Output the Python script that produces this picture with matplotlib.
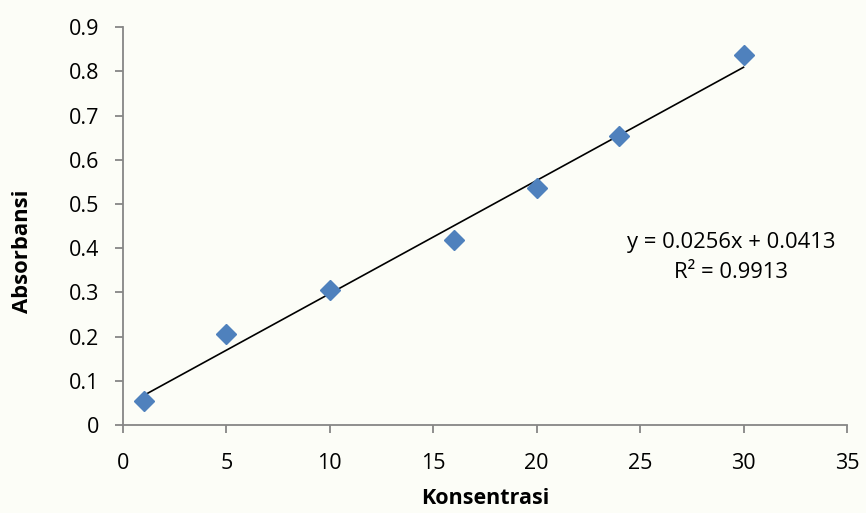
import numpy as np
import matplotlib
matplotlib.use("Agg")
import matplotlib.pyplot as plt

# Calibration data
konsentrasi = [1, 5, 10, 16, 20, 24, 30]
absorbansi = [0.054, 0.206, 0.305, 0.418, 0.536, 0.654, 0.837]

# Linear regression reported on the chart
slope = 0.0256
intercept = 0.0413
r_squared = 0.9913

x_ticks = [0, 5, 10, 15, 20, 25, 30, 35]
y_ticks = [0, 0.1, 0.2, 0.3, 0.4, 0.5, 0.6, 0.7, 0.8, 0.9]

plt.rcParams['font.family'] = ['Open Sans', 'DejaVu Sans']

bg = '#FCFDF7'
fig = plt.figure(figsize=(8.66, 5.13), dpi=100, facecolor=bg)
ax = fig.add_axes([0.142, 0.1715, 0.836, 0.7755], facecolor=bg)

ax.plot(konsentrasi, absorbansi, linestyle='none', marker='D',
        markersize=10, color='#4F81BD', zorder=3)

xf = np.array([min(konsentrasi), max(konsentrasi)])
ax.plot(xf, slope * xf + intercept, color='black', linewidth=1.2, zorder=2)

ax.set_xlim(0, 35)
ax.set_ylim(0, 0.9)
ax.set_xticks(x_ticks)
ax.set_yticks(y_ticks)
ax.set_xticklabels([str(v) for v in x_ticks])
ax.set_yticklabels(['0'] + [f'{v:.1f}' for v in y_ticks[1:]])

for side in ('top', 'right'):
    ax.spines[side].set_visible(False)
for side in ('left', 'bottom'):
    ax.spines[side].set_color('#868686')
    ax.spines[side].set_linewidth(1.3)

ax.tick_params(axis='both', direction='out', length=6, width=1.3,
               color='#868686', labelsize=15.5, labelcolor='black')
ax.tick_params(axis='x', pad=14)
ax.tick_params(axis='y', pad=11)

ax.set_xlabel('Konsentrasi', fontsize=15.5, fontweight='bold', labelpad=10)
ax.set_ylabel('Absorbansi', fontsize=15.8, fontweight='bold',
              va='center', ha='center')
ax.yaxis.set_label_coords(-0.139, 0.437)

ax.text(29.4, 0.414, f'y = {slope}x + {intercept}', fontsize=15.8,
        ha='center', va='center')
ax.text(29.4, 0.344, f'R² = {r_squared}', fontsize=15.8,
        ha='center', va='center')

fig.savefig('out.png', dpi=100, facecolor=bg)
